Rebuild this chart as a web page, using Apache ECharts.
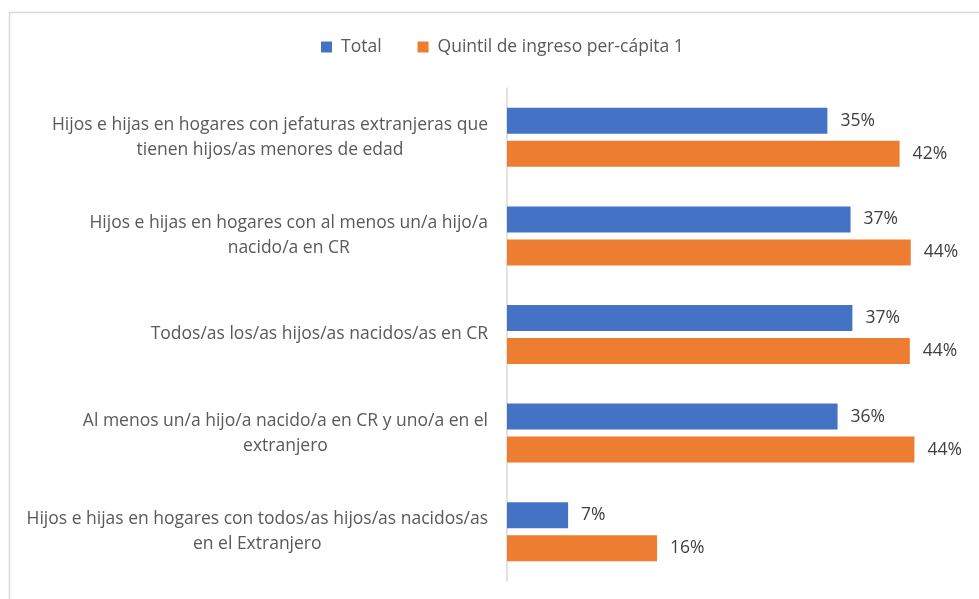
<!DOCTYPE html>
<html>
<head>
<meta charset="utf-8">
<script src="https://cdn.jsdelivr.net/npm/echarts@6/dist/echarts.min.js"></script>
<style>
  html, body { margin: 0; padding: 0; background: #fff; }
  #chart { width: 979px; height: 599px; }
</style>
</head>
<body>
<div id="chart"></div>
<script>
// categories, top to bottom
const categories = [
  'Hijos e hijas en hogares con jefaturas extranjeras que\ntienen hijos/as menores de edad',
  'Hijos e hijas en hogares con al menos un/a hijo/a\nnacido/a en CR',
  'Todos/as los/as hijos/as nacidos/as en CR',
  'Al menos un/a hijo/a nacido/a en CR y uno/a en el\nextranjero',
  'Hijos e hijas en hogares con todos/as hijos/as nacidos/as\nen el Extranjero'
]
const seriesNames = ['Total', 'Quintil de ingreso per-cápita 1']
// percentages
const totalValues = [34.6, 37.1, 37.3, 35.7, 6.6]
const quintilValues = [42.4, 43.6, 43.5, 44.0, 16.2]

const FONT = '"Open Sans", "Noto Sans", sans-serif'
const chart = echarts.init(document.getElementById('chart'))

const barLabel = {
  show: true,
  position: 'right',
  distance: 13,
  color: '#404040',
  fontSize: 17.5,
  fontFamily: FONT,
  formatter: p => Math.round(p.value) + '%'
}

chart.setOption({
  animation: false,
  textStyle: { fontFamily: FONT },
  graphic: [{
    type: 'rect',
    shape: { x: 9.5, y: 12.5, width: 1000, height: 1000 },
    style: { fill: 'none', stroke: '#d9d9d9', lineWidth: 1.5 },
    silent: true
  }],
  legend: {
    data: seriesNames,
    top: 33,
    left: 316,
    itemWidth: 11,
    itemHeight: 11,
    itemGap: 36,
    icon: 'rect',
    textStyle: { color: '#595959', fontSize: 17.5, fontFamily: FONT, padding: [0, 0, 0, 4] }
  },
  grid: {
    left: 507,
    right: 9,
    top: 88,
    bottom: 18,
    containLabel: false
  },
  xAxis: {
    type: 'value',
    min: 0,
    max: 50,
    show: false
  },
  yAxis: {
    type: 'category',
    data: categories,
    inverse: true,
    axisLine: { show: true, lineStyle: { color: '#d9d9d9', width: 1.5 } },
    axisTick: { show: false },
    axisLabel: {
      margin: 19,
      formatter: v => v.split('\n').map(l => '{c|' + l + '}').join('\n'),
      rich: {
        c: { align: 'center', color: '#595959', fontSize: 17.5, fontFamily: FONT, lineHeight: 25 }
      }
    }
  },
  series: [
    {
      name: seriesNames[0],
      type: 'bar',
      data: totalValues,
      barWidth: 26,
      barGap: '27%',
      itemStyle: { color: '#4472c4' },
      label: barLabel
    },
    {
      name: seriesNames[1],
      type: 'bar',
      data: quintilValues,
      barWidth: 26,
      barGap: '27%',
      itemStyle: { color: '#ed7d31' },
      label: barLabel
    }
  ]
})
</script>
</body>
</html>
